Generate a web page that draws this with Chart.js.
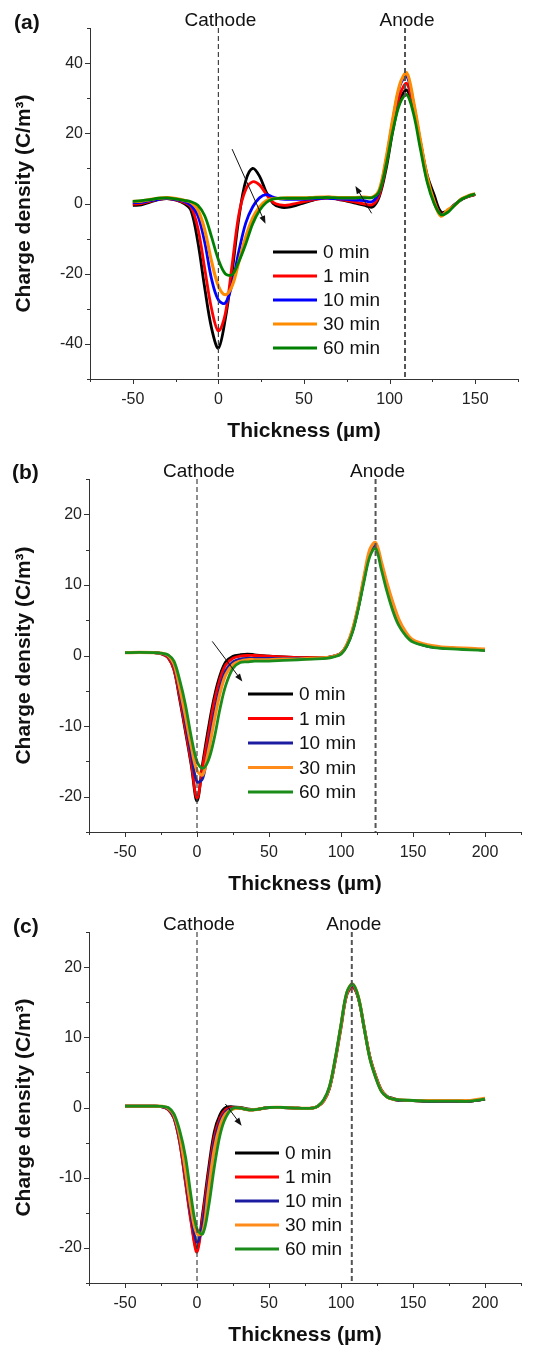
<!DOCTYPE html>
<html>
<head>
<meta charset="utf-8">
<script src="https://cdn.jsdelivr.net/npm/chart.js@4.4.0/dist/chart.umd.min.js"></script>
<style>
  body { margin: 0; background: #fff; width: 553px; height: 1346px; position: relative; overflow: hidden; }
  canvas { position: absolute; left: 0; }
</style>
</head>
<body>
<canvas id="ca" width="553" height="442" style="top:0"></canvas>
<canvas id="cb" width="553" height="453" style="top:442px"></canvas>
<canvas id="cc" width="553" height="451" style="top:895px"></canvas>
<script>
const times = ['0 min', '1 min', '10 min', '30 min', '60 min'];

// panel (a)
const xA = [-50,-45,-40,-35,-30,-25,-20,-16,-12,-8,-4,0,4,8,12,16,20,24,28,32,36,40,45,50,55,60,65,70,75,80,85,90,94,98,102,106,110,114,118,122,126,130,134,138,142,146,150];
const a0 = [-0.5,-0.4,0.4,1.1,1.4,1.0,0.0,-2.0,-11.0,-24.0,-35.5,-41.2,-33.0,-19.5,-4.0,6.5,10.0,7.8,3.2,0.0,-1.0,-1.1,-0.6,0.2,0.9,1.6,1.8,1.2,0.7,0.1,-0.5,-1.0,2.0,10.0,21.0,29.5,32.3,27.0,17.5,8.0,2.5,-2.4,-2.0,-0.3,1.1,2.0,2.5];
const a1 = [-0.2,0.0,0.6,1.2,1.4,1.0,0.3,-1.0,-7.0,-18.5,-30.0,-36.3,-31.5,-17.5,-3.0,4.0,6.2,5.3,2.6,0.3,-0.4,-0.5,0.0,0.5,1.0,1.4,1.5,1.2,0.8,0.4,-0.1,-0.3,2.5,11.0,22.0,31.0,34.2,27.0,16.5,6.5,0.8,-3.0,-2.0,-0.3,1.2,2.0,2.6];
const a10 = [0.3,0.3,0.8,1.2,1.5,1.1,0.6,-0.5,-3.5,-11.0,-21.5,-27.5,-28.4,-23.0,-13.5,-5.5,-1.0,1.6,2.5,1.8,1.3,1.2,1.2,1.2,1.3,1.5,1.5,1.3,1.2,1.0,0.8,0.6,3.5,12.5,24.0,33.5,36.3,28.5,17.5,7.0,0.3,-3.2,-2.2,-0.4,1.2,2.1,2.7];
const a30 = [0.6,0.7,1.1,1.5,1.7,1.4,0.9,0.3,-1.8,-7.5,-16.5,-23.5,-26.0,-23.5,-16.5,-9.5,-4.2,-1.0,0.8,1.4,1.5,1.6,1.6,1.6,1.7,1.8,1.8,1.7,1.7,1.7,1.8,1.8,4.0,13.0,24.5,34.0,37.2,29.0,18.0,7.5,0.5,-3.6,-1.8,-0.5,1.3,2.2,2.8];
const a60 = [0.6,0.8,1.1,1.5,1.6,1.3,0.9,0.5,-0.5,-3.5,-9.5,-16.0,-20.0,-20.3,-16.5,-11.5,-5.8,-2.0,0.3,1.3,1.5,1.5,1.5,1.5,1.6,1.7,1.7,1.6,1.6,1.6,1.7,1.7,3.5,11.0,21.0,28.5,31.0,25.5,15.5,6.0,0.0,-3.2,-2.5,-0.5,1.2,2.1,2.7];
const yTicksA = [-50,-40,-30,-20,-10,0,10,20,30,40,50];
const yLabelsA = [-40,-20,0,20,40];
const xTicksA = [-75,-50,-25,0,25,50,75,100,125,150,175];
const xLabelsA = [-50,0,50,100,150];

// panel (b)
const xB = [-50,-40,-30,-24,-20,-16,-12,-8,-4,0,4,8,12,16,20,25,30,35,40,50,60,70,80,90,95,100,104,108,112,116,120,124,128,132,136,140,145,150,160,170,180,190,200];
const b0 = [0.4,0.45,0.4,0.2,-0.3,-2.0,-6.2,-10.8,-15.5,-20.6,-15.2,-10.2,-5.9,-2.8,-0.9,-0.1,0.1,0.2,0.1,-0.1,-0.2,-0.3,-0.3,-0.3,-0.1,0.3,1.4,3.5,6.8,10.8,14.4,15.7,12.9,9.9,7.2,5.0,3.1,2.1,1.4,1.1,1.0,0.9,0.8];
const b1 = [0.4,0.45,0.4,0.2,-0.3,-2.0,-6.0,-10.5,-15.2,-20.2,-15.6,-11.0,-6.5,-3.3,-1.3,-0.4,-0.1,0.0,0.0,-0.1,-0.2,-0.3,-0.3,-0.3,-0.1,0.3,1.5,3.6,6.9,11.0,14.6,15.8,13.0,10.0,7.3,5.0,3.1,2.1,1.4,1.1,1.0,0.9,0.8];
const b10 = [0.4,0.45,0.4,0.25,-0.1,-1.5,-5.2,-9.5,-14.0,-17.9,-17.4,-12.8,-8.2,-4.5,-2.1,-0.9,-0.5,-0.4,-0.4,-0.4,-0.4,-0.4,-0.4,-0.3,-0.1,0.3,1.4,3.5,6.8,10.9,14.5,15.6,12.8,9.8,7.1,4.9,3.0,2.0,1.3,1.1,1.0,0.9,0.8];
const b30 = [0.4,0.45,0.4,0.3,0.0,-1.2,-4.6,-8.6,-12.8,-16.3,-16.9,-13.5,-9.2,-5.3,-2.7,-1.3,-0.8,-0.6,-0.6,-0.6,-0.5,-0.5,-0.4,-0.3,-0.1,0.3,1.5,3.7,7.0,11.2,15.0,16.0,13.3,10.2,7.5,5.2,3.3,2.2,1.5,1.2,1.1,1.0,0.9];
const b60 = [0.4,0.45,0.4,0.3,0.1,-0.8,-3.5,-7.0,-11.5,-15.0,-16.0,-14.8,-11.7,-7.5,-4.2,-1.8,-1.0,-0.9,-0.8,-0.8,-0.7,-0.6,-0.5,-0.4,-0.2,0.2,1.3,3.3,6.6,10.5,14.0,15.2,12.2,9.0,6.3,4.3,2.8,1.9,1.3,1.0,0.9,0.8,0.7];

// panel (c)
const xC = [-50,-40,-30,-24,-20,-16,-12,-8,-4,0,4,8,12,16,20,25,30,35,40,50,60,70,80,84,88,92,96,100,104,108,112,116,120,124,128,132,136,140,150,160,170,180,190,200];
const c0 = [0.2,0.2,0.2,0.1,-0.3,-1.5,-4.9,-10.5,-16.2,-20.2,-15.0,-8.8,-3.5,-1.0,0.0,0.1,0.0,-0.2,-0.3,0.0,0.0,-0.1,-0.1,0.2,1.0,2.8,6.8,11.6,16.2,17.3,15.6,11.4,7.2,4.5,2.5,1.6,1.3,1.1,1.0,0.9,0.9,0.9,0.9,1.2];
const c1 = [0.2,0.2,0.2,0.1,-0.3,-1.5,-5.0,-10.7,-16.5,-20.6,-15.5,-9.5,-4.2,-1.5,-0.3,0.0,-0.1,-0.3,-0.3,0.0,0.0,-0.1,-0.1,0.2,0.9,2.7,6.6,11.3,16.0,17.1,15.6,11.5,7.3,4.6,2.5,1.5,1.2,1.0,1.0,0.9,0.9,0.9,0.9,1.2];
const c10 = [0.2,0.2,0.2,0.1,-0.2,-1.3,-4.5,-9.8,-15.5,-19.2,-16.5,-10.5,-5.0,-2.0,-0.6,-0.1,-0.1,-0.3,-0.3,0.0,0.0,-0.1,-0.1,0.2,1.0,2.8,6.8,11.6,16.2,17.4,15.7,11.5,7.2,4.4,2.4,1.5,1.2,1.0,1.0,0.9,0.9,0.9,0.9,1.2];
const c30 = [0.2,0.2,0.2,0.15,-0.1,-1.1,-4.0,-9.0,-14.5,-18.0,-17.8,-11.8,-6.0,-2.6,-0.9,-0.2,-0.1,-0.3,-0.3,0.0,0.0,-0.1,-0.1,0.2,1.0,2.9,6.9,11.7,16.3,17.6,15.8,11.5,7.1,4.4,2.4,1.5,1.2,1.1,1.0,1.0,1.0,1.0,1.0,1.3];
const c60 = [0.2,0.2,0.2,0.15,0.0,-0.9,-3.3,-7.0,-12.8,-17.3,-18.0,-14.2,-8.5,-3.9,-1.4,-0.1,-0.1,-0.3,-0.3,0.0,0.0,-0.1,-0.1,0.2,1.1,3.0,7.0,11.8,16.4,17.6,15.8,11.4,7.0,4.3,2.3,1.5,1.2,1.1,1.0,0.9,0.9,0.9,0.9,1.2];

const yTicksBC = [-25,-20,-15,-10,-5,0,5,10,15,20,25];
const yLabelsBC = [-20,-10,0,10,20];
const xTicksBC = [-75,-50,-25,0,25,50,75,100,125,150,175,200,225];
const xLabelsBC = [-50,0,50,100,150,200];

const FONT = '"Liberation Sans", Arial, Helvetica, sans-serif';
Chart.defaults.font.family = FONT;
Chart.defaults.color = '#111';

// dashed electrode lines, labels, arrows, legend and tick marks
const decor = {
  id: 'decor',
  afterDatasetsDraw(chart, args, o) {
    const ctx = chart.ctx;
    const ca = chart.chartArea;
    const sx = chart.scales.x, sy = chart.scales.y;
    ctx.save();
    for (const e of o.electrodes) {
      const px = sx.getPixelForValue(e.at);
      ctx.beginPath();
      ctx.setLineDash([5, 3]);
      ctx.lineWidth = e.width;
      ctx.strokeStyle = e.color;
      ctx.moveTo(px, ca.top);
      ctx.lineTo(px, ca.bottom);
      ctx.stroke();
      ctx.setLineDash([]);
      ctx.fillStyle = '#111';
      ctx.font = '19px ' + FONT;
      ctx.textAlign = 'center';
      ctx.textBaseline = 'alphabetic';
      ctx.fillText(e.label, px + 2, ca.top - 2);
    }
    // arrows
    ctx.strokeStyle = '#111';
    ctx.fillStyle = '#111';
    ctx.lineWidth = 1;
    for (const a of o.arrows) {
      const x1 = sx.getPixelForValue(a[0]), y1 = sy.getPixelForValue(a[1]);
      const x2 = sx.getPixelForValue(a[2]), y2 = sy.getPixelForValue(a[3]);
      const ang = Math.atan2(y2 - y1, x2 - x1);
      ctx.beginPath();
      ctx.moveTo(x1, y1);
      ctx.lineTo(x2 - 6 * Math.cos(ang), y2 - 6 * Math.sin(ang));
      ctx.stroke();
      ctx.beginPath();
      ctx.moveTo(x2, y2);
      ctx.lineTo(x2 - 8 * Math.cos(ang) + 3 * Math.sin(ang), y2 - 8 * Math.sin(ang) - 3 * Math.cos(ang));
      ctx.lineTo(x2 - 8 * Math.cos(ang) - 3 * Math.sin(ang), y2 - 8 * Math.sin(ang) + 3 * Math.cos(ang));
      ctx.closePath();
      ctx.fill();
    }
    // legend
    const lg = o.legend;
    ctx.font = '19px ' + FONT;
    ctx.textAlign = 'left';
    ctx.textBaseline = 'middle';
    chart.data.datasets.forEach((ds, i) => {
      const yy = lg.y + i * lg.step;
      ctx.beginPath();
      ctx.strokeStyle = ds.borderColor;
      ctx.lineWidth = 3;
      ctx.moveTo(lg.x, yy);
      ctx.lineTo(lg.x + lg.len, yy);
      ctx.stroke();
      ctx.fillStyle = '#111';
      ctx.fillText(ds.label, lg.x + lg.len + 6, yy + 1);
    });
    // panel letter
    ctx.font = 'bold 21px ' + FONT;
    ctx.textBaseline = 'middle';
    ctx.fillText(o.letter[0], o.letter[1], o.letter[2]);
    ctx.restore();
  },
  afterDraw(chart) {
    const ctx = chart.ctx;
    const ca = chart.chartArea;
    ctx.save();
    ctx.strokeStyle = '#333';
    ctx.lineWidth = 1;
    ctx.beginPath();
    for (const t of chart.scales.x.ticks) {
      const px = Math.round(chart.scales.x.getPixelForValue(t.value)) + 0.5;
      ctx.moveTo(px, ca.bottom);
      ctx.lineTo(px, ca.bottom + (t.label ? 5 : 3));
    }
    for (const t of chart.scales.y.ticks) {
      const py = Math.round(chart.scales.y.getPixelForValue(t.value)) + 0.5;
      ctx.moveTo(ca.left, py);
      ctx.lineTo(ca.left - (t.label ? 5 : 3), py);
    }
    ctx.stroke();
    ctx.restore();
  }
};

function makePanel(id, xs, series, colors, axes, extra) {
  const datasets = series.map((ys, i) => ({
    label: times[i],
    data: xs.map((x, j) => ({x: x, y: ys[j]})),
    borderColor: colors[i],
    borderWidth: i === 3 ? 3.2 : 2.8,
    pointRadius: 0,
    tension: 0.35,
    fill: false,
    order: series.length - i
  }));
  return new Chart(document.getElementById(id), {
    type: 'line',
    data: {datasets: datasets},
    options: {
      responsive: false,
      animation: false,
      devicePixelRatio: 1,
      layout: {padding: extra.padding},
      plugins: {
        legend: {display: false},
        tooltip: {enabled: false},
        decor: extra
      },
      scales: {
        x: {
          type: 'linear',
          min: axes.xTicks[0],
          max: axes.xTicks[axes.xTicks.length - 1],
          afterBuildTicks: (s) => { s.ticks = axes.xTicks.map(v => ({value: v})); },
          afterFit: (s) => { s.height = 63; },
          grid: {display: false, drawTicks: false},
          border: {display: true, color: '#333', width: 1},
          ticks: {
            autoSkip: false,
            maxRotation: 0,
            padding: 10.5,
            color: '#222',
            font: {size: 16},
            callback: (v) => axes.xLabels.includes(v) ? String(v) : ''
          },
          title: {
            display: true,
            text: 'Thickness (µm)',
            color: '#111',
            font: {size: 21, weight: 'bold', lineHeight: 1},
            padding: {top: 0, bottom: 0.5}
          }
        },
        y: {
          type: 'linear',
          min: axes.yTicks[0],
          max: axes.yTicks[axes.yTicks.length - 1],
          afterBuildTicks: (s) => { s.ticks = axes.yTicks.map(v => ({value: v})); },
          afterFit: (s) => { s.width = extra.yWidth; },
          grid: {display: false, drawTicks: false},
          border: {display: true, color: '#333', width: 1},
          ticks: {
            padding: 7,
            color: '#222',
            font: {size: 16},
            callback: (v) => axes.yLabels.includes(v) ? String(v) : ''
          },
          title: {
            display: true,
            text: 'Charge density (C/m³)',
            color: '#111',
            font: {size: 21, weight: 'bold', lineHeight: 1},
            padding: {top: 14, bottom: 0}
          }
        }
      }
    },
    plugins: [decor]
  });
}

const colorsA = ['#000000', '#ff0000', '#0000ff', '#ff8c00', '#008000'];
const colorsBC = ['#000000', '#ff0000', '#1c1ca0', '#ff8c1a', '#1a8c1a'];

makePanel('ca', xA, [a0, a1, a10, a30, a60], colorsA,
  {xTicks: xTicksA, xLabels: xLabelsA, yTicks: yTicksA, yLabels: yLabelsA},
  {
    padding: {top: 28, right: 35, left: 0, bottom: 0},
    yWidth: 90,
    electrodes: [
      {at: 0, label: 'Cathode', width: 1.2, color: '#444'},
      {at: 109, label: 'Anode', width: 2, color: '#555'}
    ],
    arrows: [[8, 15.5, 27.5, -5.8], [89.5, -2.8, 80, 5]],
    legend: {x: 273, y: 252, len: 44, step: 24},
    letter: ['(a)', 14, 23]
  });

makePanel('cb', xB, [b0, b1, b10, b30, b60], colorsBC,
  {xTicks: xTicksBC, xLabels: xLabelsBC, yTicks: yTicksBC, yLabels: yLabelsBC},
  {
    padding: {top: 37, right: 32, left: 0, bottom: 0},
    yWidth: 89,
    electrodes: [
      {at: 0, label: 'Cathode', width: 1.2, color: '#444'},
      {at: 124, label: 'Anode', width: 2, color: '#555'}
    ],
    arrows: [[10.6, 2, 31.5, -3.7]],
    legend: {x: 248, y: 252, len: 45, step: 24.5},
    letter: ['(b)', 12, 31]
  });

makePanel('cc', xC, [c0, c1, c10, c30, c60], colorsBC,
  {xTicks: xTicksBC, xLabels: xLabelsBC, yTicks: yTicksBC, yLabels: yLabelsBC},
  {
    padding: {top: 37, right: 32, left: 0, bottom: 0},
    yWidth: 89,
    electrodes: [
      {at: 0, label: 'Cathode', width: 1.2, color: '#444'},
      {at: 107.5, label: 'Anode', width: 2, color: '#555'}
    ],
    arrows: [[19.7, 0.5, 31, -2.6]],
    legend: {x: 235, y: 258, len: 44, step: 24},
    letter: ['(c)', 13, 32]
  });
</script>
</body>
</html>
